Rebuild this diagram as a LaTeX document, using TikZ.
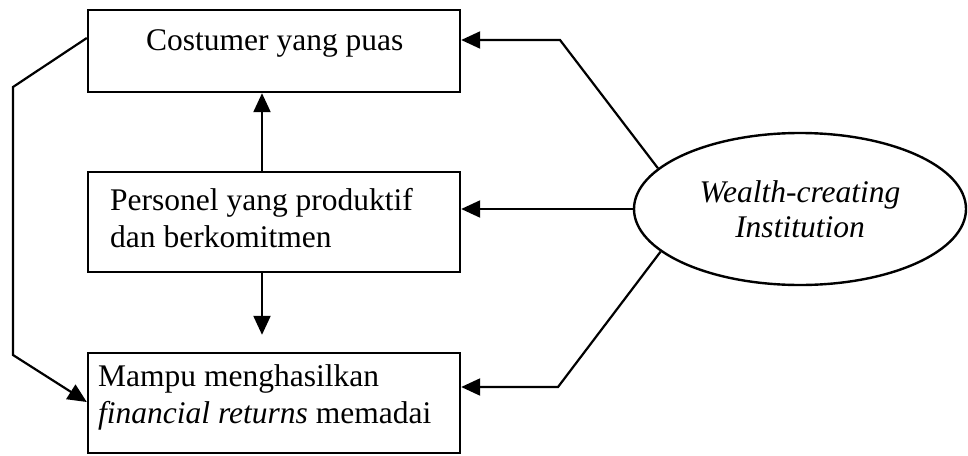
\documentclass[tikz,border=0pt]{standalone}
\usepackage{fontspec}
\setmainfont{Liberation Serif}
\usetikzlibrary{shapes.geometric,arrows.meta}
\begin{document}
\begin{tikzpicture}[x=1pt,y=-1pt,
  every node/.style={font=\fontsize{31.5}{37}\selectfont},
  frame/.style={draw,line width=2.4pt,minimum width=372pt,inner sep=0pt},
  txt/.style={anchor=base west,inner sep=0pt,align=left},
  link/.style={line width=2.2pt},
  arr/.style={link,-{Triangle[length=19pt,width=17pt]}}]
\useasboundingbox (0,0) rectangle (968,455);

% the three outcome boxes
\node[frame,minimum height=82pt] (cust) at (274,51) {};
\node[frame,minimum height=100pt] (pers) at (274,222) {};
\node[frame,minimum height=100pt] (fin) at (274,403) {};

% box texts (base anchor sits on the last line)
\node[txt] (tcust) at (146,50) {Costumer yang puas};
\node[txt] (tpers) at (110,247) {Personel yang produktif\\dan berkomitmen};
\node[txt] (tfin) at (98,423) {Mampu menghasilkan\\\textit{financial returns} memadai};

% the institution
\node[draw,ellipse,line width=2.4pt,minimum width=332pt,minimum height=152pt,
      inner sep=0pt,align=center,font=\fontsize{31.5}{35}\selectfont\itshape]
      (wci) at (800,209) {Wealth-creating\\Institution};

% links between the boxes
\draw[arr] ([xshift=-12pt]pers.north) -- ([xshift=-12pt]cust.south);
\draw[arr,shorten >=17pt] ([xshift=-12pt]pers.south) -- ([xshift=-12pt]fin.north);
\coordinate (lt) at (13,87);
\coordinate (lb) at (13,355);
\draw[arr] (cust.west |- 0,38) -- (lt) -- (lb) -- (fin.west |- 0,402);

% links from the institution
\coordinate (rt) at (560,40);
\coordinate (rb) at (558,387);
\draw[arr] (wci.164) -- (rt) -- (cust.east |- rt);
\draw[arr] (wci.west) -- (pers.east |- wci.west);
\draw[arr] (wci.197) -- (rb) -- (fin.east |- rb);
\end{tikzpicture}
\end{document}
